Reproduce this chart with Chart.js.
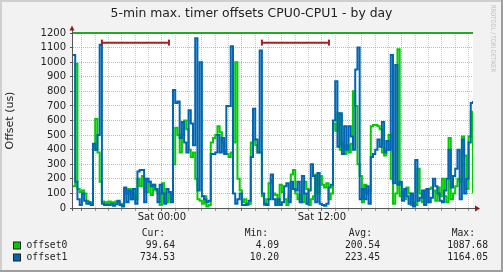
<!DOCTYPE html>
<html>
<head>
<meta charset="utf-8">
<title>timer offsets CPU0-CPU1</title>
<script src="https://cdn.jsdelivr.net/npm/chart.js@4.4.1/dist/chart.umd.min.js"></script>
<style>
  html, body { margin: 0; padding: 0; background: #f2f2f2; }
  canvas { display: block; }
</style>
</head>
<body>
<canvas id="graph" width="503" height="272"></canvas>
<script>
// samples every 10 min, hours counted from Sat 00:00
var startHour = -20 / 3;
var stepHours = 1 / 6;

var offset0Values = [
    150, 990, 130, 110, 120, 100, 50, 30, 30, 400,
    610, 380, 180, 45, 40, 40, 45, 40, 35, 45,
    40, 30, 15, 130, 100, 130, 60, 100, 60, 200,
    150, 220, 200, 110, 180, 90, 160, 120, 100, 20,
    170, 100, 40, 100, 60, 300, 550, 500, 380, 500,
    600, 540, 400, 350, 380, 200, 60, 50, 30, 80,
    10, 20, 450, 480, 500, 560, 520, 450, 390, 370,
    350, 380, 450, 1000, 200, 120, 40, 60, 20, 30,
    450, 470, 430, 380, 380, 80, 20, 60, 170, 190,
    100, 90, 30, 160, 110, 60, 20, 80, 230, 260,
    100, 60, 90, 40, 180, 130, 20, 60, 80, 230,
    100, 220, 160, 140, 170, 60, 100, 580, 530, 650,
    400, 450, 370, 430, 380, 440, 800, 700, 300, 220,
    40, 160, 100, 120, 560, 570, 570, 560, 540, 380,
    360, 400, 500, 200, 30, 100, 1088, 80, 110, 60,
    140, 100, 20, 40, 20, 270, 100, 40, 120, 40,
    130, 140, 120, 50, 140, 80, 200, 80, 40, 480,
    60, 100, 150, 200, 180, 490, 360, 130, 490, 660,
    99.64
];
var offset1Values = [
    1050, 180, 60, 20, 100, 50, 30, 40, 20, 440,
    400, 500, 1120, 30, 20, 25, 20, 30, 15, 25,
    50, 20, 10, 140, 40, 120, 60, 130, 30, 250,
    260, 260, 40, 200, 180, 150, 160, 130, 40, 160,
    100, 30, 130, 110, 40, 810, 720, 730, 480, 590,
    450, 380, 670, 580, 430, 1164, 120, 1000, 80, 60,
    40, 50, 370, 370, 380, 500, 380, 480, 370, 700,
    700, 1110, 100, 30, 60, 100, 20, 20, 30, 50,
    350, 680, 470, 380, 1080, 100, 30, 20, 60, 230,
    60, 20, 60, 20, 40, 150, 170, 40, 180, 130,
    120, 180, 40, 220, 100, 30, 120, 300, 220, 40,
    240, 30, 20, 15, 30, 140, 160, 600, 870, 420,
    650, 370, 560, 400, 560, 490, 400, 950, 1100, 60,
    130, 60, 150, 30, 350, 370, 400, 470, 420, 590,
    380, 460, 400, 1050, 170, 980, 160, 180, 50, 130,
    80, 30, 100, 10, 330, 50, 70, 120, 20, 130,
    40, 70, 200, 150, 100, 50, 40, 120, 200, 400,
    140, 220, 270, 400, 60, 470, 100, 200, 450, 720,
    734.53
];

var seriesNames = ['offset0', 'offset1'];
var seriesColors = ['#00cc00', '#0066b3'];
var statHeads = ['Cur:', 'Min:', 'Avg:', 'Max:'];
var offset0Stats = [99.64, 4.09, 200.54, 1087.68];
var offset1Stats = [734.53, 10.20, 223.45, 1164.05];

var labelHours = [0, 12];
var labelTexts = ['Sat 00:00', 'Sat 12:00'];

// the two red period bars and the green rule on top
var markStarts = [-4.5, 7.5];
var markEnds = [0.53, 12.53];
var markLevel = 1134;
var ruleLevel = 1200;

var titleText = '5-min max. timer offsets CPU0-CPU1 - by day';
var watermark = 'RRDTOOL / TOBI OETIKER';

function toPoints(values) {
    var pts = [];
    for (var i = 0; i < values.length; i++) {
        pts.push({x: startHour + i * stepHours, y: values[i]});
    }
    return pts;
}

var hourTicks = [];
for (var h = -6; h <= 23; h++) hourTicks.push(h);

var endHour = startHour + (offset0Values.length - 1) * stepHours;

var datasets = [];
for (var m = 0; m < markStarts.length; m++) {
    datasets.push({
        data: [{x: markStarts[m], y: markLevel}, {x: markEnds[m], y: markLevel}],
        borderColor: '#b01c1c',
        borderWidth: 2,
        pointStyle: 'line',
        pointRotation: 90,
        pointRadius: 3,
        pointBorderWidth: 2,
        pointBorderColor: '#b01c1c',
        order: 0
    });
}
datasets.push({
    label: seriesNames[1],
    data: toPoints(offset1Values),
    borderColor: seriesColors[1],
    borderWidth: 2,
    pointRadius: 0,
    stepped: 'before',
    order: 1
});
datasets.push({
    label: seriesNames[0],
    data: toPoints(offset0Values),
    borderColor: seriesColors[0],
    borderWidth: 2,
    pointRadius: 0,
    stepped: 'before',
    order: 2
});
datasets.push({
    data: [{x: startHour, y: ruleLevel}, {x: endHour, y: ruleLevel}],
    borderColor: '#22aa22',
    borderWidth: 2,
    pointRadius: 0,
    clip: false,
    order: 3
});

var rrdFrame = {
    id: 'rrdFrame',
    beforeDraw: function(chart) {
        var ctx = chart.ctx, a = chart.chartArea;
        ctx.save();
        ctx.fillStyle = '#f2f2f2';
        ctx.fillRect(0, 0, 503, 272);
        ctx.fillStyle = '#cfcfcf';
        ctx.fillRect(0, 0, 503, 2);
        ctx.fillRect(0, 0, 2, 272);
        ctx.fillStyle = '#9e9e9e';
        ctx.fillRect(0, 270, 503, 2);
        ctx.fillRect(501, 0, 2, 272);
        ctx.fillStyle = '#ffffff';
        ctx.fillRect(a.left, a.top, a.right - a.left, a.bottom - a.top);
        ctx.restore();
    },
    afterDraw: function(chart) {
        var ctx = chart.ctx, a = chart.chartArea;
        ctx.save();

        // axes and arrows
        ctx.fillStyle = '#555';
        ctx.fillRect(a.left - 1, a.top - 4, 1, a.bottom - a.top + 7);
        ctx.fillRect(a.left - 3, a.bottom, a.right - a.left + 5, 1);
        ctx.fillStyle = '#8b1a1a';
        ctx.beginPath();
        ctx.moveTo(a.left - 3.5, a.top - 2.5);
        ctx.lineTo(a.left + 1.5, a.top - 2.5);
        ctx.lineTo(a.left - 1, a.top - 7.5);
        ctx.closePath();
        ctx.fill();
        ctx.beginPath();
        ctx.moveTo(a.right + 2, a.bottom - 2.5);
        ctx.lineTo(a.right + 2, a.bottom + 3.5);
        ctx.lineTo(a.right + 7, a.bottom + 0.5);
        ctx.closePath();
        ctx.fill();

        // title
        ctx.fillStyle = '#222';
        ctx.font = '12.4px "DejaVu Sans"';
        ctx.textAlign = 'center';
        ctx.textBaseline = 'middle';
        ctx.fillText(titleText, 251.5, 13.5);

        // legend table
        ctx.font = '9.7px "DejaVu Sans Mono"';
        ctx.textAlign = 'right';
        var headRight = [165, 268, 372, 475];
        var valRight = [175, 279, 380, 488];
        for (var c = 0; c < statHeads.length; c++) {
            ctx.fillText(statHeads[c], headRight[c], 233.5);
        }
        var stats = [offset0Stats, offset1Stats];
        for (var r = 0; r < seriesNames.length; r++) {
            var yy = 245.5 + r * 12;
            ctx.fillStyle = seriesColors[r];
            ctx.fillRect(13.5, yy - 3.5, 7, 7);
            ctx.strokeStyle = '#222';
            ctx.lineWidth = 1;
            ctx.strokeRect(13.5, yy - 3.5, 7, 7);
            ctx.fillStyle = '#222';
            ctx.textAlign = 'left';
            ctx.fillText(seriesNames[r], 26.5, yy);
            ctx.textAlign = 'right';
            for (var k = 0; k < stats[r].length; k++) {
                ctx.fillText(stats[r][k].toFixed(2), valRight[k], yy);
            }
        }

        // watermark
        ctx.translate(493, 5);
        ctx.rotate(Math.PI / 2);
        ctx.font = '6.5px "DejaVu Sans"';
        ctx.fillStyle = '#bdbdbd';
        ctx.textAlign = 'left';
        ctx.fillText(watermark, 0, 0, 67);
        ctx.restore();
    }
};

var pink = 'rgba(220, 140, 140, 0.75)';
var grey = 'rgba(190, 190, 190, 0.8)';

new Chart(document.getElementById('graph'), {
    type: 'line',
    data: {datasets: datasets},
    options: {
        responsive: false,
        animation: false,
        devicePixelRatio: 1,
        events: [],
        layout: {padding: {top: 33, left: 0, right: 30, bottom: 44}},
        plugins: {legend: {display: false}, title: {display: false}, tooltip: {enabled: false}},
        scales: {
            x: {
                type: 'linear',
                min: startHour,
                max: endHour,
                afterBuildTicks: function(scale) {
                    scale.ticks = hourTicks.map(function(v) { return {value: v}; });
                },
                afterFit: function(scale) { scale.height = 20; },
                ticks: {
                    autoSkip: false,
                    maxRotation: 0,
                    padding: 0,
                    color: '#222',
                    font: {family: 'DejaVu Sans', size: 10},
                    callback: function(value) {
                        var idx = labelHours.indexOf(value);
                        return idx >= 0 ? labelTexts[idx] : '';
                    }
                },
                grid: {
                    color: function(c) { return c.tick && c.tick.value % 6 === 0 ? pink : grey; },
                    tickColor: function(c) { return c.tick && c.tick.value % 6 === 0 ? '#c04040' : '#999'; },
                    lineWidth: 1,
                    tickLength: 3
                },
                border: {display: false, dash: [1, 1]}
            },
            y: {
                min: 0,
                max: 1200,
                afterFit: function(scale) { scale.width = 73; },
                ticks: {
                    stepSize: 100,
                    autoSkip: false,
                    padding: 4,
                    color: '#222',
                    font: {family: 'DejaVu Sans', size: 10},
                    callback: function(value) { return String(value); }
                },
                grid: {
                    color: pink,
                    tickColor: '#555',
                    lineWidth: 1,
                    tickLength: 3
                },
                border: {display: false, dash: [1, 1]},
                title: {
                    display: true,
                    text: 'Offset (us)',
                    color: '#222',
                    font: {family: 'DejaVu Sans', size: 11},
                    padding: {top: 4, bottom: 0}
                }
            }
        }
    },
    plugins: [rrdFrame]
});
</script>
</body>
</html>
